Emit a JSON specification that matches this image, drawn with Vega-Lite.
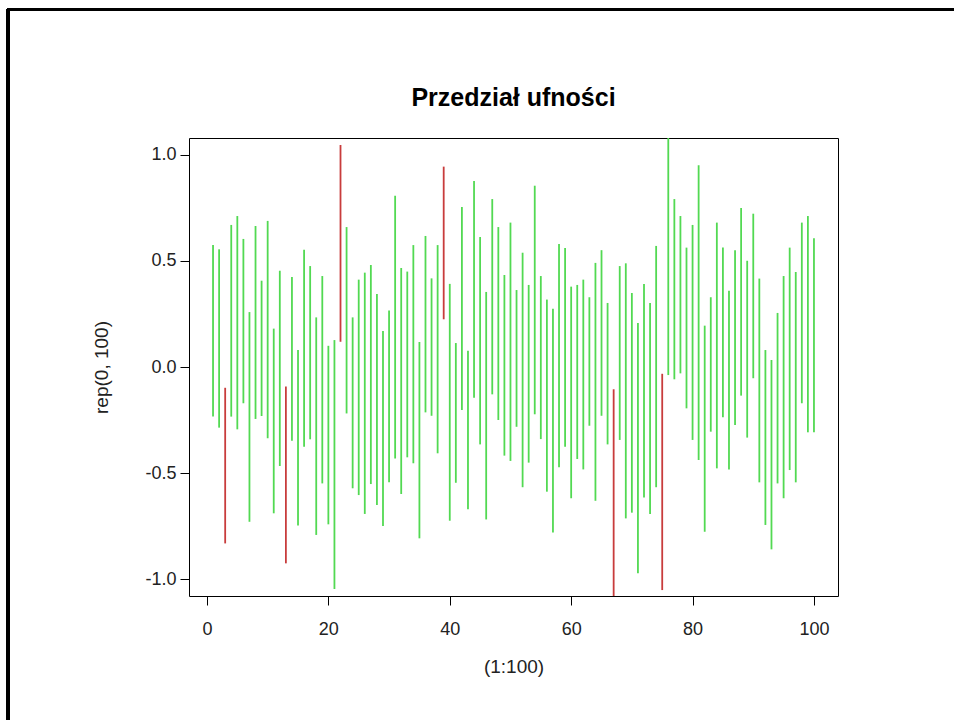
{
  "$schema": "https://vega.github.io/schema/vega-lite/v6.json",
  "autosize": {"type": "none"},
  "width": 649,
  "height": 458,
  "padding": {"left": 189, "top": 138, "right": 116, "bottom": 124},
  "background": "white",
  "title": {
    "text": "Przedział ufności",
    "font": "Liberation Sans",
    "fontSize": 25,
    "fontWeight": "bold",
    "color": "black",
    "anchor": "middle",
    "baseline": "alphabetic",
    "offset": 0,
    "dy": 123
  },
  "config": {
    "view": {"stroke": "black", "strokeWidth": 1},
    "axis": {
      "labelFont": "Liberation Sans",
      "titleFont": "Liberation Sans",
      "labelFontSize": 18,
      "titleFontSize": 19,
      "labelColor": "#222",
      "titleColor": "#222",
      "titleFontWeight": "normal",
      "tickColor": "black",
      "tickSize": 9,
      "domain": false,
      "grid": false
    }
  },
  "data": {
    "values": [
      {"i": 1, "lo": -0.234, "hi": 0.575, "c": "in"},
      {"i": 2, "lo": -0.286, "hi": 0.555, "c": "in"},
      {"i": 3, "lo": -0.832, "hi": -0.098, "c": "out"},
      {"i": 4, "lo": -0.234, "hi": 0.670, "c": "in"},
      {"i": 5, "lo": -0.294, "hi": 0.712, "c": "in"},
      {"i": 6, "lo": -0.171, "hi": 0.604, "c": "in"},
      {"i": 7, "lo": -0.730, "hi": 0.259, "c": "in"},
      {"i": 8, "lo": -0.245, "hi": 0.665, "c": "in"},
      {"i": 9, "lo": -0.231, "hi": 0.407, "c": "in"},
      {"i": 10, "lo": -0.336, "hi": 0.689, "c": "in"},
      {"i": 11, "lo": -0.690, "hi": 0.181, "c": "in"},
      {"i": 12, "lo": -0.467, "hi": 0.454, "c": "in"},
      {"i": 13, "lo": -0.926, "hi": -0.092, "c": "out"},
      {"i": 14, "lo": -0.348, "hi": 0.425, "c": "in"},
      {"i": 15, "lo": -0.748, "hi": 0.080, "c": "in"},
      {"i": 16, "lo": -0.376, "hi": 0.553, "c": "in"},
      {"i": 17, "lo": -0.341, "hi": 0.476, "c": "in"},
      {"i": 18, "lo": -0.792, "hi": 0.234, "c": "in"},
      {"i": 19, "lo": -0.549, "hi": 0.429, "c": "in"},
      {"i": 20, "lo": -0.742, "hi": 0.100, "c": "in"},
      {"i": 21, "lo": -1.047, "hi": 0.127, "c": "in"},
      {"i": 22, "lo": 0.119, "hi": 1.047, "c": "out"},
      {"i": 23, "lo": -0.219, "hi": 0.660, "c": "in"},
      {"i": 24, "lo": -0.572, "hi": 0.234, "c": "in"},
      {"i": 25, "lo": -0.604, "hi": 0.412, "c": "in"},
      {"i": 26, "lo": -0.693, "hi": 0.445, "c": "in"},
      {"i": 27, "lo": -0.552, "hi": 0.481, "c": "in"},
      {"i": 28, "lo": -0.651, "hi": 0.344, "c": "in"},
      {"i": 29, "lo": -0.750, "hi": 0.170, "c": "in"},
      {"i": 30, "lo": -0.544, "hi": 0.266, "c": "in"},
      {"i": 31, "lo": -0.431, "hi": 0.808, "c": "in"},
      {"i": 32, "lo": -0.599, "hi": 0.467, "c": "in"},
      {"i": 33, "lo": -0.426, "hi": 0.450, "c": "in"},
      {"i": 34, "lo": -0.454, "hi": 0.575, "c": "in"},
      {"i": 35, "lo": -0.808, "hi": 0.118, "c": "in"},
      {"i": 36, "lo": -0.214, "hi": 0.618, "c": "in"},
      {"i": 37, "lo": -0.230, "hi": 0.418, "c": "in"},
      {"i": 38, "lo": -0.407, "hi": 0.575, "c": "in"},
      {"i": 39, "lo": 0.225, "hi": 0.945, "c": "out"},
      {"i": 40, "lo": -0.725, "hi": 0.392, "c": "in"},
      {"i": 41, "lo": -0.546, "hi": 0.113, "c": "in"},
      {"i": 42, "lo": -0.203, "hi": 0.755, "c": "in"},
      {"i": 43, "lo": -0.671, "hi": 0.077, "c": "in"},
      {"i": 44, "lo": -0.145, "hi": 0.877, "c": "in"},
      {"i": 45, "lo": -0.365, "hi": 0.613, "c": "in"},
      {"i": 46, "lo": -0.719, "hi": 0.354, "c": "in"},
      {"i": 47, "lo": -0.129, "hi": 0.792, "c": "in"},
      {"i": 48, "lo": -0.250, "hi": 0.660, "c": "in"},
      {"i": 49, "lo": -0.418, "hi": 0.434, "c": "in"},
      {"i": 50, "lo": -0.443, "hi": 0.681, "c": "in"},
      {"i": 51, "lo": -0.282, "hi": 0.363, "c": "in"},
      {"i": 52, "lo": -0.567, "hi": 0.539, "c": "in"},
      {"i": 53, "lo": -0.451, "hi": 0.387, "c": "in"},
      {"i": 54, "lo": -0.223, "hi": 0.855, "c": "in"},
      {"i": 55, "lo": -0.340, "hi": 0.429, "c": "in"},
      {"i": 56, "lo": -0.588, "hi": 0.318, "c": "in"},
      {"i": 57, "lo": -0.781, "hi": 0.275, "c": "in"},
      {"i": 58, "lo": -0.473, "hi": 0.580, "c": "in"},
      {"i": 59, "lo": -0.376, "hi": 0.561, "c": "in"},
      {"i": 60, "lo": -0.619, "hi": 0.379, "c": "in"},
      {"i": 61, "lo": -0.434, "hi": 0.387, "c": "in"},
      {"i": 62, "lo": -0.483, "hi": 0.412, "c": "in"},
      {"i": 63, "lo": -0.277, "hi": 0.329, "c": "in"},
      {"i": 64, "lo": -0.631, "hi": 0.491, "c": "in"},
      {"i": 65, "lo": -0.230, "hi": 0.551, "c": "in"},
      {"i": 66, "lo": -0.365, "hi": 0.302, "c": "in"},
      {"i": 67, "lo": -1.150, "hi": -0.105, "c": "out"},
      {"i": 68, "lo": -0.344, "hi": 0.476, "c": "in"},
      {"i": 69, "lo": -0.714, "hi": 0.489, "c": "in"},
      {"i": 70, "lo": -0.687, "hi": 0.349, "c": "in"},
      {"i": 71, "lo": -0.973, "hi": 0.208, "c": "in"},
      {"i": 72, "lo": -0.615, "hi": 0.392, "c": "in"},
      {"i": 73, "lo": -0.693, "hi": 0.302, "c": "in"},
      {"i": 74, "lo": -0.567, "hi": 0.571, "c": "in"},
      {"i": 75, "lo": -1.052, "hi": -0.032, "c": "out"},
      {"i": 76, "lo": -0.038, "hi": 1.130, "c": "in"},
      {"i": 77, "lo": -0.058, "hi": 0.792, "c": "in"},
      {"i": 78, "lo": -0.030, "hi": 0.712, "c": "in"},
      {"i": 79, "lo": -0.195, "hi": 0.563, "c": "in"},
      {"i": 80, "lo": -0.344, "hi": 0.670, "c": "in"},
      {"i": 81, "lo": -0.439, "hi": 0.951, "c": "in"},
      {"i": 82, "lo": -0.777, "hi": 0.195, "c": "in"},
      {"i": 83, "lo": -0.305, "hi": 0.329, "c": "in"},
      {"i": 84, "lo": -0.478, "hi": 0.681, "c": "in"},
      {"i": 85, "lo": -0.237, "hi": 0.563, "c": "in"},
      {"i": 86, "lo": -0.483, "hi": 0.360, "c": "in"},
      {"i": 87, "lo": -0.274, "hi": 0.551, "c": "in"},
      {"i": 88, "lo": -0.135, "hi": 0.750, "c": "in"},
      {"i": 89, "lo": -0.333, "hi": 0.501, "c": "in"},
      {"i": 90, "lo": -0.053, "hi": 0.723, "c": "in"},
      {"i": 91, "lo": -0.544, "hi": 0.417, "c": "in"},
      {"i": 92, "lo": -0.745, "hi": 0.080, "c": "in"},
      {"i": 93, "lo": -0.860, "hi": 0.033, "c": "in"},
      {"i": 94, "lo": -0.549, "hi": 0.255, "c": "in"},
      {"i": 95, "lo": -0.619, "hi": 0.429, "c": "in"},
      {"i": 96, "lo": -0.486, "hi": 0.563, "c": "in"},
      {"i": 97, "lo": -0.544, "hi": 0.448, "c": "in"},
      {"i": 98, "lo": -0.171, "hi": 0.681, "c": "in"},
      {"i": 99, "lo": -0.308, "hi": 0.712, "c": "in"},
      {"i": 100, "lo": -0.308, "hi": 0.607, "c": "in"}
    ]
  },
  "layer": [
    {
      "mark": {"type": "rule", "strokeWidth": 1.8, "clip": true},
      "encoding": {
        "x": {
          "field": "i",
          "type": "quantitative",
          "scale": {"domain": [-2.96, 103.96], "nice": false, "zero": false},
          "axis": {
            "title": "(1:100)",
            "values": [0, 20, 40, 60, 80, 100],
            "format": "d",
            "labelPadding": 15,
            "titlePadding": 19
          }
        },
        "y": {
          "field": "lo",
          "type": "quantitative",
          "scale": {"domain": [-1.08, 1.08], "nice": false, "zero": false},
          "axis": {
            "title": "rep(0, 100)",
            "values": [-1, -0.5, 0, 0.5, 1],
            "format": ".1f",
            "labelExpr": "replace(datum.label, '−', '-')",
            "labelPadding": 4,
            "titlePadding": 33
          }
        },
        "y2": {"field": "hi"},
        "color": {
          "field": "c",
          "type": "nominal",
          "scale": {"domain": ["in", "out"], "range": ["#52d952", "#c83c3c"]},
          "legend": null
        }
      }
    },
    {
      "mark": {"type": "rule", "color": "black", "strokeWidth": 2.5, "clip": false},
      "encoding": {
        "x": {"datum": -32.8, "type": "quantitative"},
        "x2": {"datum": 124},
        "y": {"datum": 1.686, "type": "quantitative"}
      }
    },
    {
      "mark": {"type": "rule", "color": "black", "strokeWidth": 2.5, "clip": false},
      "encoding": {
        "x": {"datum": -32.8, "type": "quantitative"},
        "y": {"datum": 1.686, "type": "quantitative"},
        "y2": {"datum": -1.7}
      }
    }
  ]
}
